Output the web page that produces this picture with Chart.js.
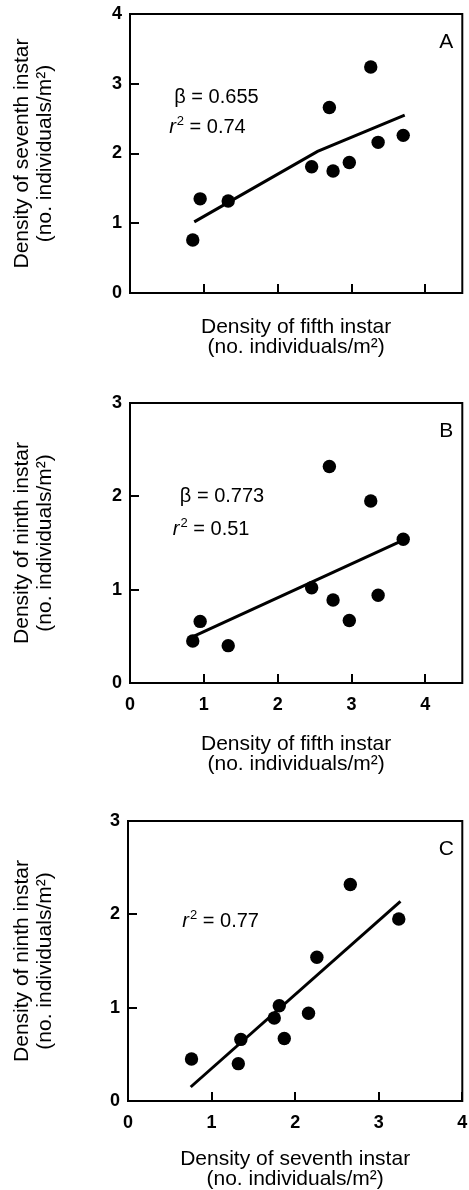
<!DOCTYPE html>
<html><head><meta charset="utf-8">
<script src="https://cdn.jsdelivr.net/npm/chart.js@4.4.1/dist/chart.umd.min.js"></script>
<style>
html,body{margin:0;padding:0;background:#fff;}
body{width:469px;height:1190px;overflow:hidden;}
canvas{display:block;}
</style></head><body>
<canvas id="cA"></canvas>
<canvas id="cB"></canvas>
<canvas id="cC"></canvas>
<script>
const FONT = "'Liberation Sans', Arial, Helvetica, sans-serif";

// Densities (no. individuals/m^2) per site, same order in every array
const fifthInstar   = [0.85, 0.95, 1.33, 2.46, 2.70, 2.75, 2.97, 3.26, 3.36, 3.70];
const seventhInstar = [0.76, 1.35, 1.32, 1.81, 2.66, 1.75, 1.87, 3.24, 2.16, 2.26];
const ninthInstar   = [0.45, 0.66, 0.40, 1.02, 2.32, 0.89, 0.67, 1.95, 0.94, 1.54];

// Fitted lines
const fitA_x = [0.87, 2.54, 3.72];
const fitA_y = [1.02, 2.03, 2.55];
const fitB_x = [0.86, 3.70];
const fitB_y = [0.50, 1.53];
const fitC_x = [0.75, 3.26];
const fitC_y = [0.15, 2.14];

// Tick values
const xTicksAB = [0, 1, 2, 3, 4];
const xTicksC  = [0, 1, 2, 3, 4];
const yTicksA  = [0, 1, 2, 3, 4];
const yTicksBC = [0, 1, 2, 3];

// Labels
const panelLetters = ['A', 'B', 'C'];
const betaValues = ['0.655', '0.773', null];
const r2Values = ['0.74', '0.51', '0.77'];
const xTitleAB = ['Density of fifth instar', '(no. individuals/m\u00B2)'];
const xTitleC  = ['Density of seventh instar', '(no. individuals/m\u00B2)'];
const yTitleA  = ['Density of seventh instar', '(no. individuals/m\u00B2)'];
const yTitleBC = ['Density of ninth instar', '(no. individuals/m\u00B2)'];

Chart.defaults.font.family = FONT;
Chart.defaults.color = '#000';

const framePlugin = {
  id: 'frame',
  beforeDatasetsDraw(chart) {
    const {ctx, chartArea: a} = chart;
    ctx.save();
    ctx.strokeStyle = '#000';
    ctx.lineWidth = 2;
    ctx.strokeRect(a.left, a.top, a.right - a.left, a.bottom - a.top);
    ctx.restore();
  }
};

const textPlugin = {
  id: 'panelText',
  afterDatasetsDraw(chart, args, opts) {
    const {ctx, chartArea: a, scales} = chart;
    ctx.save();
    ctx.fillStyle = '#000';
    ctx.textBaseline = 'alphabetic';
    ctx.font = `21px ${FONT}`;
    ctx.textAlign = 'center';
    ctx.fillText(opts.letter, a.right - 16, a.top + 34);
    ctx.textAlign = 'left';
    if (opts.beta) {
      const x = scales.x.getPixelForValue(opts.betaPos[0]);
      const y = scales.y.getPixelForValue(opts.betaPos[1]);
      ctx.font = `20px ${FONT}`;
      ctx.fillText('\u03B2 = ' + opts.beta, x, y);
    }
    if (opts.r2) {
      let x = scales.x.getPixelForValue(opts.r2Pos[0]);
      const y = scales.y.getPixelForValue(opts.r2Pos[1]);
      ctx.font = `italic 20px ${FONT}`;
      ctx.fillText('r', x, y);
      x += ctx.measureText('r').width + 1;
      ctx.font = `13px ${FONT}`;
      ctx.fillText('2', x, y - 8);
      x += ctx.measureText('2').width;
      ctx.font = `20px ${FONT}`;
      ctx.fillText(' = ' + opts.r2, x, y);
    }
    ctx.restore();
  }
};

function makePanel(id, p) {
  const cv = document.getElementById(id);
  cv.width = 469; cv.height = p.h;
  cv.style.width = '469px'; cv.style.height = p.h + 'px';
  const gridOpts = {drawOnChartArea: false, drawTicks: true, tickLength: -9, color: '#000', lineWidth: 2, tickColor: '#000', tickWidth: 2};
  const borderOpts = {display: true, color: '#000', width: 2};
  return new Chart(cv, {
    type: 'scatter',
    data: {datasets: [
      {data: p.xs.map((v, i) => ({x: v, y: p.ys[i]})), pointRadius: 6.7, pointHoverRadius: 6.7,
       backgroundColor: '#000', borderWidth: 0, pointStyle: 'circle'},
      {data: p.fx.map((v, i) => ({x: v, y: p.fy[i]})), showLine: true, borderColor: '#000',
       borderWidth: 3, pointRadius: 0, pointHoverRadius: 0, fill: false, tension: 0, borderCapStyle: 'butt'}
    ]},
    options: {
      responsive: false, animation: false, devicePixelRatio: 1, events: [],
      layout: {padding: {top: p.top, right: p.right, left: 0, bottom: 0}},
      plugins: {
        legend: {display: false}, tooltip: {enabled: false},
        panelText: {letter: p.letter, beta: p.beta, betaPos: p.betaPos, r2: p.r2, r2Pos: p.r2Pos}
      },
      scales: {
        x: {
          type: 'linear', min: 0, max: p.xmax,
          afterBuildTicks: s => { s.ticks = p.xt.map(v => ({value: v})); },
          ticks: {display: p.xlabels, font: {size: 18, weight: 'bold'}, color: '#000', padding: 19.9, maxRotation: 0},
          grid: gridOpts, border: borderOpts,
          title: {display: true, text: p.xtitle, color: '#000', font: {size: 21, lineHeight: 0.95}, padding: {top: 0, bottom: p.xpb}},
          afterFit: s => { s.height = p.xh; s.paddingLeft = 0; s.paddingRight = 0; s.paddingTop = 0; s.paddingBottom = 0; }
        },
        y: {
          type: 'linear', min: 0, max: p.ymax,
          afterBuildTicks: s => { s.ticks = p.yt.map(v => ({value: v})); },
          ticks: {font: {size: 18, weight: 'bold'}, color: '#000', padding: 17},
          grid: gridOpts, border: borderOpts,
          title: {display: true, text: p.ytitle, color: '#000', font: {size: 21, lineHeight: 1.1}, padding: {top: 11, bottom: 0}},
          afterFit: s => { s.width = p.yw; s.paddingLeft = 0; s.paddingRight = 0; s.paddingTop = 0; s.paddingBottom = 0; }
        }
      }
    },
    plugins: [framePlugin, textPlugin]
  });
}

makePanel('cA', {
  h: 360, top: 14, right: 2, yw: 130, xh: 67, xpb: 3,
  xs: fifthInstar, ys: seventhInstar, fx: fitA_x, fy: fitA_y,
  xmax: 4.5, ymax: 4, xt: xTicksAB, yt: yTicksA, xlabels: false,
  xtitle: xTitleAB, ytitle: yTitleA,
  letter: panelLetters[0], beta: betaValues[0], betaPos: [0.60, 2.73], r2: r2Values[0], r2Pos: [0.53, 2.30]
});
makePanel('cB', {
  h: 420, top: 43, right: 2, yw: 130, xh: 97, xpb: 6,
  xs: fifthInstar, ys: ninthInstar, fx: fitB_x, fy: fitB_y,
  xmax: 4.5, ymax: 3, xt: xTicksAB, yt: yTicksBC, xlabels: true,
  xtitle: xTitleAB, ytitle: yTitleBC,
  letter: panelLetters[1], beta: betaValues[1], betaPos: [0.675, 1.935], r2: r2Values[1], r2Pos: [0.58, 1.59]
});
makePanel('cC', {
  h: 410, top: 41, right: 3, yw: 128, xh: 89, xpb: 1,
  xs: seventhInstar, ys: ninthInstar, fx: fitC_x, fy: fitC_y,
  xmax: 4, ymax: 3, xt: xTicksC, yt: yTicksBC, xlabels: true,
  xtitle: xTitleC, ytitle: yTitleBC,
  letter: panelLetters[2], beta: betaValues[2], betaPos: null, r2: r2Values[2], r2Pos: [0.65, 1.865]
});
</script>
</body></html>
